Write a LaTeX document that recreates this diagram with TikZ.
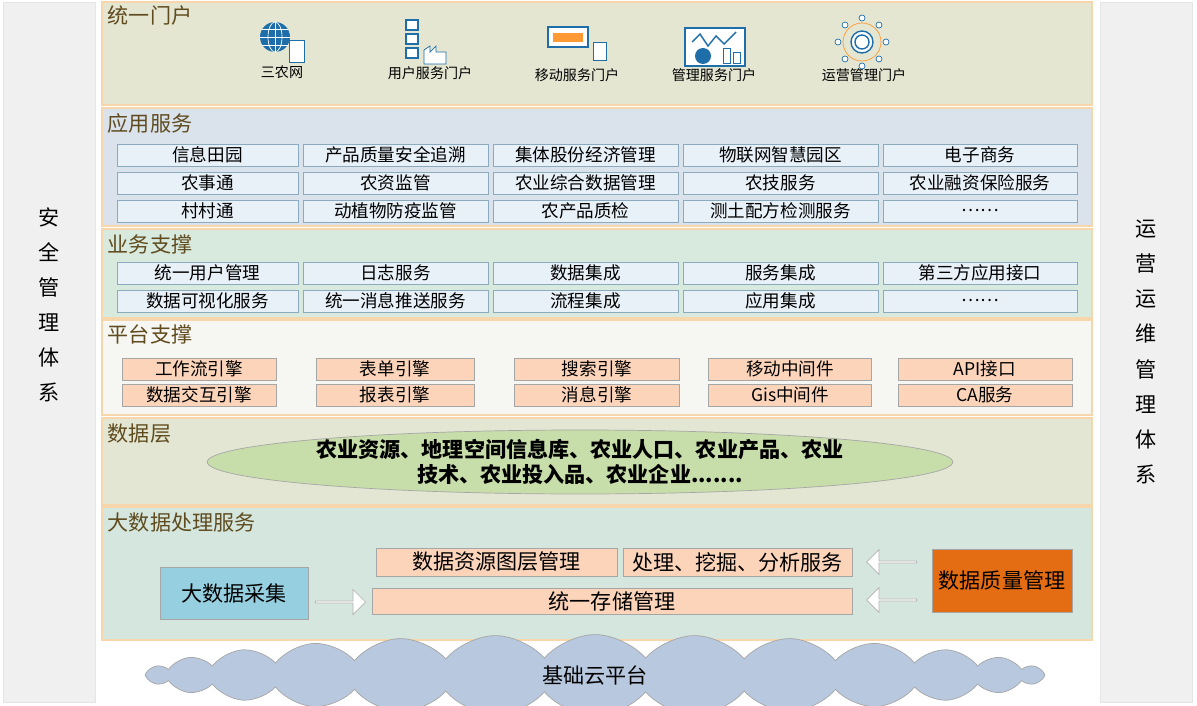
\documentclass[tikz,border=0pt]{standalone}
\usepackage{fontspec}
\setmainfont{Noto Sans CJK SC}
\usetikzlibrary{positioning,shapes.arrows,shapes.symbols,shapes.geometric}
\definecolor{layerborder}{RGB}{246,214,170}
\definecolor{titlebrown}{RGB}{95,75,30}
\definecolor{boxblue}{RGB}{232,240,248}
\definecolor{boxedge}{RGB}{140,170,190}
\definecolor{peach}{RGB}{252,212,186}
\definecolor{iconblue}{RGB}{30,110,170}
\definecolor{deeporange}{RGB}{228,108,18}

\tikzset{
  layer/.style={draw=layerborder,line width=1.2pt},
  ltitle/.style={anchor=north west,font=\large,text=titlebrown,inner sep=2pt},
  appbox/.style={draw=boxedge,fill=boxblue,minimum height=0.44cm,font=\normalsize,inner sep=0pt},
  platbox/.style={draw=gray!70,fill=peach,minimum height=0.44cm,font=\normalsize,inner sep=0pt},
  sidebar/.style={draw=gray!20,fill=black!6},
  hollowarrow/.style={single arrow,draw=gray!60,fill=white,minimum height=1cm,minimum width=0.5cm,single arrow head extend=0.08cm,inner sep=0pt},
  iconlabel/.style={font=\footnotesize}
}

\begin{document}
\begin{tikzpicture}[x=0.02cm,y=-0.02cm]
    \useasboundingbox (0,0) rectangle (1197,706);

    % === Side bars ===
    \fill[white] (0,0) rectangle (1197,706);
    \draw[sidebar] (3,2) rectangle (95,702);
    \draw[sidebar] (1100,2) rectangle (1192,702);
    \node[align=center,font=\large,text width=0.5cm] (safety) at (49,305) {安\\[6pt]全\\[6pt]管\\[6pt]理\\[6pt]体\\[6pt]系};
    \node[align=center,font=\large,text width=0.5cm] (ops) at (1146,352) {运\\[6pt]营\\[6pt]运\\[6pt]维\\[6pt]管\\[6pt]理\\[6pt]体\\[6pt]系};

    % === Layers ===
    \draw[layer,fill={rgb,255:red,228;green,230;blue,210}] (102,2) rectangle (1092,105);
    \draw[layer,fill={rgb,255:red,218;green,226;blue,236}] (102,108) rectangle (1092,226);
    \draw[layer,fill={rgb,255:red,216;green,234;blue,222}] (102,229) rectangle (1092,318);
    \draw[layer,fill={rgb,255:red,246;green,246;blue,242}] (102,320) rectangle (1092,415);
    \draw[layer,fill={rgb,255:red,226;green,230;blue,210}] (102,418) rectangle (1092,505);
    \draw[layer,fill={rgb,255:red,212;green,230;blue,222}] (102,507) rectangle (1092,640);

    \node[ltitle] (t1) at (104,2) {统一门户};
    \node[ltitle] (t2) at (104,110) {应用服务};
    \node[ltitle] (t3) at (104,231) {业务支撑};
    \node[ltitle] (t4) at (104,321) {平台支撑};
    \node[ltitle] (t5) at (104,420) {数据层};
    \node[ltitle] (t6) at (104,509) {大数据处理服务};

    % === Portal icons ===
    \fill[iconblue] (275,37) circle (15);
    \draw[white,thin] (275,22) -- (275,52) (260,37) -- (290,37) (262,29) -- (288,29) (262,45) -- (288,45);
    \draw[white,thin] (275,37) ellipse (7 and 15);
    \draw[iconblue,fill=white] (289,40) rectangle (304,62);
    \node[iconlabel] (p1) at (282,72) {三农网};
    \foreach \yy in {20,34,48} \draw[iconblue,thick,fill=white] (406,\yy) rectangle (418,\yy+10);
    \draw[iconblue,fill=white] (424,64) -- (424,50) -- (430,46) -- (430,52) -- (436,46) -- (436,52) -- (446,52) -- (446,64) -- cycle;
    \node[iconlabel] (p2) at (430,73) {用户服务门户};
    \draw[iconblue,thick,fill=white] (548,27) rectangle (588,47);
    \fill[orange!80] (553,33) rectangle (583,42);
    \draw[iconblue,fill=white] (593,42) rectangle (606,60);
    \node[iconlabel] (p3) at (577,75) {移动服务门户};
    \draw[iconblue,thick,fill=white] (685,28) rectangle (745,66);
    \draw[iconblue,thick] (692,42) -- (700,34) -- (708,46) -- (716,36) -- (724,44) -- (736,32);
    \fill[iconblue] (703,56) circle (8);
    \draw[iconblue] (723,48) rectangle (730,63) (733,52) rectangle (740,63);
    \node[iconlabel] (p4) at (714,75) {管理服务门户};
    \draw[orange!80] (862,42) circle (19);
    \foreach \a in {0,45,...,315} \draw[iconblue,fill=white] (862,42) ++(\a:24) circle (3);
    \draw[iconblue,thick,fill=white] (862,42) circle (11);
    \draw[iconblue,thick] (862,42) circle (7);
    \node[iconlabel] (p5) at (864,75) {运营管理门户};

    % === Application services ===
    \foreach \txt [count=\i] in {信息田园,产品质量安全追溯,集体股份经济管理,物联网智慧园区,电子商务} {
      \pgfmathsetmacro{\cx}{{0,207.5,395.5,585.5,780.5,980}[\i]}
      \pgfmathsetmacro{\w}{{0,181,185,185,195,194}[\i]}
      \node[appbox,minimum width=\w*0.02cm] (a1\i) at (\cx,155) {\txt};
    }
    \foreach \txt [count=\i] in {农事通,农资监管,农业综合数据管理,农技服务,农业融资保险服务} {
      \pgfmathsetmacro{\cx}{{0,207.5,395.5,585.5,780.5,980}[\i]}
      \pgfmathsetmacro{\w}{{0,181,185,185,195,194}[\i]}
      \node[appbox,minimum width=\w*0.02cm] (a2\i) at (\cx,183) {\txt};
    }
    \foreach \txt [count=\i] in {村村通,动植物防疫监管,农产品质检,测土配方检测服务,……} {
      \pgfmathsetmacro{\cx}{{0,207.5,395.5,585.5,780.5,980}[\i]}
      \pgfmathsetmacro{\w}{{0,181,185,185,195,194}[\i]}
      \node[appbox,minimum width=\w*0.02cm] (a3\i) at (\cx,211) {\txt};
    }

    % === Business support ===
    \foreach \txt [count=\i] in {统一用户管理,日志服务,数据集成,服务集成,第三方应用接口} {
      \pgfmathsetmacro{\cx}{{0,207.5,395.5,585.5,780.5,980}[\i]}
      \pgfmathsetmacro{\w}{{0,181,185,185,195,194}[\i]}
      \node[appbox,minimum width=\w*0.02cm] (b1\i) at (\cx,273) {\txt};
    }
    \foreach \txt [count=\i] in {数据可视化服务,统一消息推送服务,流程集成,应用集成,……} {
      \pgfmathsetmacro{\cx}{{0,207.5,395.5,585.5,780.5,980}[\i]}
      \pgfmathsetmacro{\w}{{0,181,185,185,195,194}[\i]}
      \node[appbox,minimum width=\w*0.02cm] (b2\i) at (\cx,301) {\txt};
    }

    % === Platform support ===
    \foreach \txt [count=\i] in {工作流引擎,表单引擎,搜索引擎,移动中间件,API接口} {
      \pgfmathsetmacro{\cx}{{0,199,395,597,790,985}[\i]}
      \pgfmathsetmacro{\w}{{0,154,158,165,163,174}[\i]}
      \node[platbox,minimum width=\w*0.02cm] (c1\i) at (\cx,369) {\txt};
    }
    \foreach \txt [count=\i] in {数据交互引擎,报表引擎,消息引擎,Gis中间件,CA服务} {
      \pgfmathsetmacro{\cx}{{0,199,395,597,790,985}[\i]}
      \pgfmathsetmacro{\w}{{0,154,158,165,163,174}[\i]}
      \node[platbox,minimum width=\w*0.02cm] (c2\i) at (\cx,395) {\txt};
    }

    % === Data layer ===
    \node[draw=gray!70,fill={rgb,255:red,200;green,222;blue,170},ellipse,minimum width=13.3cm,minimum height=1.28cm,align=center,font=\large\bfseries,inner sep=0pt] (data) at (580,462)
      {农业资源、地理空间信息库、农业人口、农业产品、农业\\技术、农业投入品、农业企业.......};

    % === Big data processing ===
    \node[draw=gray!70,fill={rgb,255:red,150;green,208;blue,224},minimum width=2.96cm,minimum height=1.04cm,font=\large] (collect) at (234,593) {大数据采集};
    \node[platbox,minimum width=4.82cm,minimum height=0.56cm,font=\large] (layerm) at (496.5,562) {数据资源图层管理};
    \node[platbox,minimum width=4.58cm,minimum height=0.56cm,font=\large] (mining) at (737.5,562) {处理、挖掘、分析服务};
    \node[platbox,minimum width=9.6cm,minimum height=0.52cm,font=\large] (storage) at (612,601) {统一存储管理};
    \node[draw=gray!70,fill=deeporange,minimum width=2.8cm,minimum height=1.26cm,font=\large] (quality) at (1002,580.5) {数据质量管理};
    \node[hollowarrow] (arr1) at (340,602) {};
    \node[hollowarrow,shape border rotate=180] (arr2) at (892,562) {};
    \node[hollowarrow,shape border rotate=180] (arr3) at (892,600) {};

    % === Cloud ===
    \node[cloud,cloud puffs=28,cloud puff arc=100,aspect=16,draw=gray!70,fill={rgb,255:red,184;green,200;blue,222},minimum width=18cm,minimum height=1.1cm,font=\large] (cloud) at (595,675) {基础云平台};
\end{tikzpicture}
\end{document}
